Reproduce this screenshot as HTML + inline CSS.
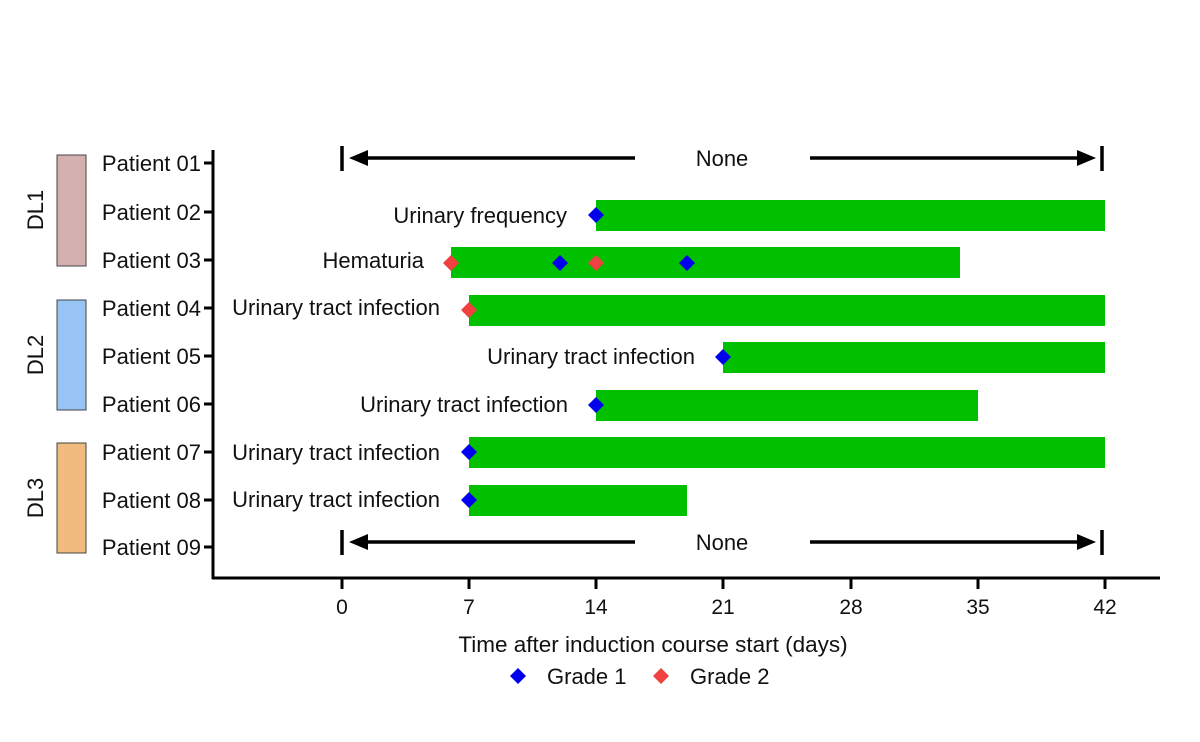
<!DOCTYPE html>
<html><head><meta charset="utf-8"><style>body{margin:0;background:#fff}svg{display:block}text{font-family:"Liberation Sans",Arial,sans-serif;fill:#111}</style></head>
<body>
<svg width="1200" height="742" viewBox="0 0 1200 742" xmlns="http://www.w3.org/2000/svg">
<defs><g id="d"><polygon points="0,-8 8,0 0,8 -8,0"/></g></defs>
<rect x="57" y="155" width="29" height="111" fill="#d5b0b0" stroke="#444" stroke-width="1"/>
<rect x="57" y="300" width="29" height="110" fill="#98c3f5" stroke="#444" stroke-width="1"/>
<rect x="57" y="443" width="29" height="110" fill="#f1bb80" stroke="#444" stroke-width="1"/>
<g font-size="22">
<text transform="translate(43,210) rotate(-90)" text-anchor="middle">DL1</text>
<text transform="translate(43,355) rotate(-90)" text-anchor="middle">DL2</text>
<text transform="translate(43,498) rotate(-90)" text-anchor="middle">DL3</text>
</g>
<g font-size="22" text-anchor="end">
<text x="201" y="171">Patient 01</text>
<text x="201" y="220">Patient 02</text>
<text x="201" y="268">Patient 03</text>
<text x="201" y="316">Patient 04</text>
<text x="201" y="364">Patient 05</text>
<text x="201" y="412">Patient 06</text>
<text x="201" y="460">Patient 07</text>
<text x="201" y="508">Patient 08</text>
<text x="201" y="555">Patient 09</text>
</g>
<g stroke="#000" stroke-width="3" fill="none">
<line x1="213" y1="150" x2="213" y2="579"/>
<line x1="212" y1="578" x2="1160" y2="578"/>
<path d="M204 163H213M204 212H213M204 260H213M204 308H213M204 356H213M204 404H213M204 452H213M204 500H213M204 547H213"/>
<path d="M342 578V589M469 578V589M596 578V589M723 578V589M851 578V589M978 578V589M1105 578V589"/>
</g>
<g font-size="21" text-anchor="middle">
<text x="342" y="614">0</text><text x="469" y="614">7</text><text x="596" y="614">14</text><text x="723" y="614">21</text><text x="851" y="614">28</text><text x="978" y="614">35</text><text x="1105" y="614">42</text>
</g>
<text x="653" y="652" font-size="22.5" text-anchor="middle">Time after induction course start (days)</text>
<g fill="#00c000">
<rect x="596" y="200" width="509" height="31"/>
<rect x="451" y="247" width="509" height="31"/>
<rect x="469" y="295" width="636" height="31"/>
<rect x="723" y="342" width="382" height="31"/>
<rect x="596" y="390" width="382" height="31"/>
<rect x="469" y="437" width="636" height="31"/>
<rect x="469" y="485" width="218" height="31"/>
</g>
<g stroke="#000" stroke-width="3.5" fill="none">
<path d="M342 146V171M1102 146V171M362 158H635M810 158H1082"/>
<path d="M342 530V555M1102 530V555M362 542H635M810 542H1082"/>
</g>
<g fill="#000">
<polygon points="349,158 368,150 368,166"/><polygon points="1096,158 1077,150 1077,166"/>
<polygon points="349,542 368,534 368,550"/><polygon points="1096,542 1077,534 1077,550"/>
</g>
<g font-size="22">
<text x="722" y="166" text-anchor="middle">None</text>
<text x="722" y="550" text-anchor="middle">None</text>
<g text-anchor="end">
<text x="567" y="223">Urinary frequency</text>
<text x="424" y="268">Hematuria</text>
<text x="440" y="315">Urinary tract infection</text>
<text x="695" y="364">Urinary tract infection</text>
<text x="568" y="412">Urinary tract infection</text>
<text x="440" y="460">Urinary tract infection</text>
<text x="440" y="507">Urinary tract infection</text>
</g>
</g>
<g fill="#0000ee">
<use href="#d" x="596" y="215"/><use href="#d" x="560" y="263"/><use href="#d" x="687" y="263"/>
<use href="#d" x="723" y="357"/><use href="#d" x="596" y="405"/><use href="#d" x="469" y="452"/><use href="#d" x="469" y="500"/>
<use href="#d" x="518" y="676"/>
</g>
<g fill="#f04040">
<use href="#d" x="451" y="263"/><use href="#d" x="596" y="263"/><use href="#d" x="469" y="310"/>
<use href="#d" x="661" y="676"/>
</g>
<g font-size="22">
<text x="547" y="684">Grade 1</text>
<text x="690" y="684">Grade 2</text>
</g>
</svg>
</body></html>
